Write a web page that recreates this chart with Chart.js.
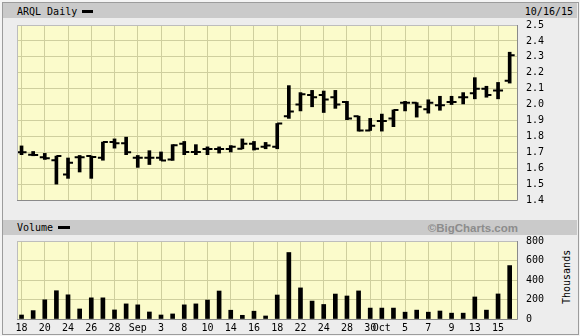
<!DOCTYPE html>
<html>
<head>
<meta charset="utf-8">
<script src="https://cdn.jsdelivr.net/npm/chart.js@4.4.1/dist/chart.umd.min.js"></script>
<style>
  html,body{margin:0;padding:0;}
  body{width:580px;height:336px;position:relative;overflow:hidden;background:#f4f4f4;font-family:"DejaVu Sans Mono",monospace;font-size:10px;color:#000;}
  .abs{position:absolute;}
  .band{position:absolute;left:3px;width:574px;background:#cacaca;}
  canvas{position:absolute;left:0;}
</style>
</head>
<body>
<div class="abs" style="left:2px;top:2px;width:577px;height:333px;box-sizing:border-box;border:1px solid #9c9c9c;background:#ededed;"></div>
<div class="band" style="top:3px;height:15px;"></div>
<div class="band" style="top:220px;height:15px;"></div>
<div class="abs" style="left:17px;top:4px;height:16px;line-height:16px;">ARQL Daily</div>
<div class="abs" style="left:82px;top:10px;width:11px;height:3px;background:#000;"></div>
<div class="abs" style="right:7px;top:4px;height:16px;line-height:16px;">10/16/15</div>
<div class="abs" style="left:17px;top:220px;height:16px;line-height:16px;">Volume</div>
<div class="abs" style="left:58px;top:226px;width:12px;height:3px;background:#000;"></div>
<div class="abs" style="right:62px;top:220px;height:16px;line-height:16px;font-family:'Liberation Sans',Arial,sans-serif;font-weight:bold;font-size:11.5px;color:#8c8c8c;">©BigCharts.com</div>
<div class="abs" style="left:540px;top:270px;width:54px;height:14px;line-height:14px;text-align:center;transform:rotate(-90deg);">Thousands</div>
<canvas id="price" width="580" height="215" style="top:0;"></canvas>
<canvas id="vol" width="580" height="111" style="top:225px;"></canvas>
<script>
// ---- data (ARQL daily, 8/18/15 - 10/16/15) ----
const dates = ['8/18','8/19','8/20','8/21','8/24','8/25','8/26','8/27','8/28','8/31',
  '9/1','9/2','9/3','9/4','9/8','9/9','9/10','9/11','9/14','9/15','9/16','9/17','9/18',
  '9/21','9/22','9/23','9/24','9/25','9/28','9/29','9/30',
  '10/1','10/2','10/5','10/6','10/7','10/8','10/9','10/12','10/13','10/14','10/15','10/16'];
const openP  = [1.70,1.685,1.668,1.65,1.56,1.668,1.676,1.665,1.764,1.756,
  1.665,1.665,1.665,1.655,1.754,1.702,1.72,1.72,1.72,1.722,1.754,1.734,1.734,
  1.927,2.00,2.06,2.06,2.046,2.016,1.927,1.837,
  1.897,1.913,2.012,2.012,1.97,1.996,2.016,2.046,2.071,2.099,2.089,2.149];
const highP  = [1.74,1.705,1.693,1.676,1.664,1.68,1.676,1.764,1.784,1.795,
  1.68,1.71,1.702,1.748,1.768,1.748,1.734,1.734,1.742,1.784,1.768,1.762,1.881,
  2.119,2.075,2.089,2.085,2.089,2.02,1.927,1.913,
  1.94,1.966,2.02,2.012,2.03,2.052,2.052,2.075,2.169,2.115,2.139,2.329];
const lowP   = [1.685,1.678,1.655,1.50,1.536,1.576,1.536,1.65,1.726,1.685,
  1.605,1.623,1.649,1.649,1.685,1.685,1.685,1.695,1.702,1.722,1.714,1.722,1.722,
  1.913,1.96,1.986,1.95,1.976,1.905,1.833,1.837,
  1.833,1.861,1.96,1.921,1.946,1.964,2.00,2.004,2.036,2.046,2.036,2.135];
const closeP = [1.70,1.683,1.662,1.676,1.634,1.668,1.67,1.764,1.756,1.70,
  1.665,1.665,1.649,1.744,1.702,1.702,1.72,1.72,1.734,1.754,1.722,1.742,1.881,
  1.956,2.065,2.046,2.032,2.00,1.913,1.837,1.867,
  1.897,1.966,2.012,1.986,2.012,1.996,2.016,2.046,2.099,2.06,2.089,2.31];
const volumeK = [41,86,197,290,248,103,217,217,93,155,
  145,72,41,52,145,155,194,287,90,38,80,31,246,
  682,319,184,149,256,236,288,112,
  112,112,70,91,70,82,60,60,226,91,257,548];
const tickIndex  = [0,2,4,6,8,10,12,14,16,18,20,22,24,26,28,30,31,33,35,37,39,41];
const tickLabels = ['18','20','24','26','28','Sep','3','8','10','14','16','18','22','24','28','30','Oct','5','7','9','13','15'];
const priceTicks = [1.4,1.5,1.6,1.7,1.8,1.9,2.0,2.1,2.2,2.3,2.4,2.5];
const volumeTicks = [0,200,400,600,800];

// ---- styling ----
Chart.defaults.font.family = "'DejaVu Sans Mono', monospace";
Chart.defaults.font.size = 10;
Chart.defaults.color = '#000';
const GRID = '#cfcf9e';
const PLOT_BG = '#fbfbcb';
const X_MIN = -0.39, X_MAX = 42.63, TICK = 0.43;

const areaPlugin = {
  id: 'area',
  beforeDraw(chart) {
    const a = chart.chartArea, c = chart.ctx;
    c.save(); c.fillStyle = PLOT_BG; c.fillRect(a.left, a.top, a.right - a.left, a.bottom - a.top); c.restore();
  },
  afterDraw(chart) {
    const a = chart.chartArea, c = chart.ctx;
    c.save(); c.lineWidth = 1;
    c.strokeStyle = '#bdbdbd';
    c.beginPath(); c.moveTo(a.left + 0.5, a.bottom); c.lineTo(a.left + 0.5, a.top + 0.5); c.lineTo(a.right, a.top + 0.5); c.stroke();
    c.strokeStyle = '#8a8a8a';
    c.beginPath(); c.moveTo(a.left, a.bottom + 0.5); c.lineTo(a.right + 0.5, a.bottom + 0.5); c.lineTo(a.right + 0.5, a.top); c.stroke();
    c.restore();
  }
};

function xScale(showLabels) {
  return {
    type: 'linear', min: X_MIN, max: X_MAX, offset: false,
    afterBuildTicks: s => { s.ticks = tickIndex.map(v => ({ value: v })); },
    afterFit: s => { s.height = showLabels ? 17 : 0; },
    grid: { color: GRID, offset: false, drawTicks: false },
    border: { display: false },
    ticks: {
      display: showLabels, autoSkip: false, maxRotation: 0, minRotation: 0, padding: 3,
      callback: v => tickLabels[tickIndex.indexOf(v)]
    }
  };
}
function yScale(min, max, vals, fmt) {
  return {
    type: 'linear', position: 'right', min, max,
    afterBuildTicks: s => { s.ticks = vals.map(v => ({ value: v })); },
    afterFit: s => { s.width = 63; },
    grid: { color: GRID, drawTicks: false },
    border: { display: false },
    ticks: { padding: 9, callback: fmt }
  };
}

const hlData = dates.map((d, i) => ({ x: i, y: [lowP[i], highP[i]] }));
const openData = [], closeData = [];
dates.forEach((d, i) => {
  openData.push({ x: i - TICK, y: openP[i] }, { x: i, y: openP[i] }, { x: i, y: null });
  closeData.push({ x: i, y: closeP[i] }, { x: i + TICK, y: closeP[i] }, { x: i, y: null });
});
const lineDs = (data) => ({
  type: 'line', data, borderColor: '#000', borderWidth: 2, pointRadius: 0,
  tension: 0, spanGaps: false, borderCapStyle: 'butt', fill: false
});

new Chart(document.getElementById('price'), {
  type: 'bar',
  data: {
    datasets: [
      { type: 'bar', data: hlData, backgroundColor: '#000', borderWidth: 0, barThickness: 3 },
      lineDs(openData),
      lineDs(closeData)
    ]
  },
  options: {
    responsive: false, animation: false, events: [],
    layout: { padding: { left: 17, top: 25, right: 0, bottom: 5 } },
    plugins: { legend: { display: false }, tooltip: { enabled: false } },
    scales: {
      x: xScale(false),
      y: yScale(1.4, 2.5, priceTicks, v => v.toFixed(1))
    }
  },
  plugins: [areaPlugin]
});

new Chart(document.getElementById('vol'), {
  type: 'bar',
  data: {
    datasets: [
      { data: volumeK.map((v, i) => ({ x: i, y: v })), backgroundColor: '#000', borderWidth: 0, barThickness: 4 }
    ]
  },
  options: {
    responsive: false, animation: false, events: [],
    layout: { padding: { left: 17, top: 16, right: 0, bottom: 0 } },
    plugins: { legend: { display: false }, tooltip: { enabled: false } },
    scales: {
      x: xScale(true),
      y: yScale(0, 800, volumeTicks, v => String(v))
    }
  },
  plugins: [areaPlugin]
});
</script>
</body>
</html>
